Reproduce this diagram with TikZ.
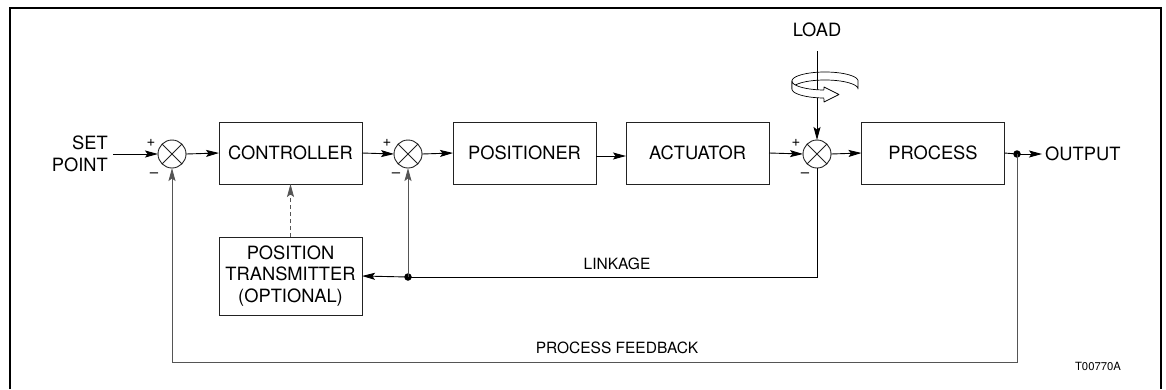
\documentclass[tikz,border=0pt]{standalone}
\usepackage{fontspec}
\setmainfont{TeX Gyre Heros}
\usetikzlibrary{arrows.meta,calc}
\definecolor{lin}{HTML}{222222}
\definecolor{fb}{HTML}{555555}
\tikzset{
  blk/.style={draw=lin, line width=0.9pt, minimum width=143pt, inner sep=0pt, outer sep=0pt,
    font=\fontsize{18.3}{21.5}\selectfont, align=center},
  sumj/.style={circle, draw=lin, line width=0.9pt, minimum size=28pt, inner sep=0pt, outer sep=0pt,
    path picture={\draw[lin, line width=0.8pt] (path picture bounding box.north west) -- (path picture bounding box.south east)
      (path picture bounding box.north east) -- (path picture bounding box.south west);}},
  arr/.style={-{Stealth[length=13pt,width=7pt,inset=2.5pt]}, line width=0.9pt, draw=black},
  fbl/.style={line width=1pt, draw=fb},
  lbl/.style={font=\fontsize{18.3}{22}\selectfont, inner sep=0pt},
  sml/.style={font=\fontsize{15.5}{18}\selectfont, inner sep=0pt},
  sgn/.style={font=\fontsize{15}{15}\selectfont, inner sep=0pt},
  jdot/.style={circle, fill=black, minimum size=7.5pt, inner sep=0pt},
  band/.style={draw=black, line width=0.7pt, fill=white, line join=round}
}
\begin{document}
\begin{tikzpicture}[x=1pt,y=-1pt]
\useasboundingbox (0,0) rectangle (1166,389);
% frame
\draw[line width=1.4pt] (10,389) -- (10,8) -- (1161,8) -- (1161,389);
% blocks
\node[blk, minimum height=62pt] (ctl) at (290.5,153) {CONTROLLER};
\node[blk, minimum height=62pt] (pos) at (524.5,153) {POSITIONER};
\node[blk, minimum height=62pt] (act) at (697.5,153) {ACTUATOR};
\node[blk, minimum height=62pt] (proc) at (933,153) {PROCESS};
\node[blk, minimum height=78pt] (pt) at (290.5,276) {POSITION\\TRANSMITTER\\(OPTIONAL)};
% summing junctions
\node[sumj] (s1) at (172,154) {};
\node[sumj] (s2) at (408,154) {};
\node[sumj] (s3) at (817,154) {};
% signs
\node[sgn] (p1) at (151,143) {+};
\node[sgn] (m1) at (154,175) {–};
\node[sgn] (p2) at (387,143) {+};
\node[sgn] (m2) at (396,175) {–};
\node[sgn] (p3) at (796,143) {+};
\node[sgn] (m3) at (805,175) {–};
% texts
\node[lbl, align=right, anchor=east] (sp) at (108,154) {SET\\POINT};
\node[lbl, anchor=west] (out) at (1045,154) {OUTPUT};
\node[lbl] (load) at (817,30) {LOAD};
\node[sml] (lk) at (617,264) {LINKAGE};
\node[sml] (pf) at (617,348) {PROCESS FEEDBACK};
\node[font=\fontsize{11.3}{12}\selectfont, inner sep=0pt] (tag) at (1098,366) {T00770A};
% coordinates
\coordinate (spin) at (113,154);
\node[jdot] (jo) at (1017,154) {};
\coordinate (oarr) at (1042,154);
\node[jdot] (jl) at (408,277) {};
\coordinate (ld) at (817,51);
\coordinate (lkc) at (817,277);
\coordinate (fbr) at (1017,362);
\coordinate (fbl) at (172,362);
% forward path
\draw[arr] (spin) -- (s1.west);
\draw[arr] (s1.east) -- (ctl.west);
\draw[arr] (ctl.east) -- (s2.west);
\draw[arr] (s2.east) -- (pos.west);
\draw[arr] ([yshift=-3pt]pos.east) -- ([yshift=-3pt]act.west);
\draw[arr] (act.east) -- (s3.west);
\draw[arr] (s3.east) -- (proc.west);
\draw[line width=0.9pt] (proc.east) -- (jo.center);
\draw[arr] (jo.center) -- (oarr);
% linkage
\draw[line width=0.9pt] (s3.south) -- (lkc) -- (jl.center);
\draw[arr] (jl.center) -- (pt.east);
\draw[arr, draw=fb] (jl.center) -- (s2.south);
% dashed optional
\draw[arr, draw=fb, dashed, dash pattern=on 4pt off 3pt, line width=0.8pt] (pt.north) -- (ctl.south);
% process feedback
\draw[fbl] (jo.center) -- (fbr) -- (fbl);
\draw[arr, draw=fb] (fbl) -- (s1.south);
% load rotation band (back part)
\draw[band] plot[domain=180:360, samples=40] ({825+33*cos(\x)},{81+9*sin(\x)})
  -- (858,89) -- plot[domain=360:180, samples=40] ({825+33*cos(\x)},{89+9*sin(\x)}) -- cycle;
% load line
\draw[arr] (ld) -- (s3.north);
% front band with arrow head
\draw[band] (792,81) -- plot[domain=180:92, samples=30] ({825+33*cos(\x)},{81+9*sin(\x)})
  -- (824,87) -- (839,94.5) -- (824,102)
  -- plot[domain=92:180, samples=30] ({825+33*cos(\x)},{89+9*sin(\x)}) -- cycle;
\end{tikzpicture}
\end{document}
